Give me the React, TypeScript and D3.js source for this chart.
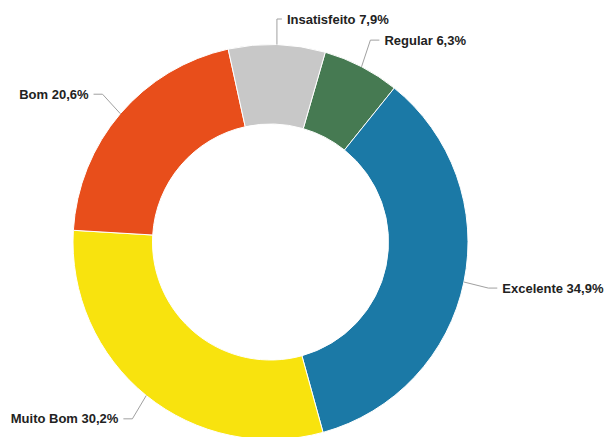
import React from 'react';
import * as d3 from 'd3';

// slices in drawing order, clockwise from the top
const categories = ['Regular', 'Excelente', 'Muito Bom', 'Bom', 'Insatisfeito'];
const values = [6.3, 34.9, 30.2, 20.6, 7.9];
const labels = ['Regular 6,3%', 'Excelente 34,9%', 'Muito Bom 30,2%', 'Bom 20,6%', 'Insatisfeito 7,9%'];
const colors = ['#467a52', '#1b79a6', '#f8e30e', '#e84e1b', '#c8c8c8'];

const WIDTH = 607;
const HEIGHT = 437;

const App = () => {
  const cx = 270.5;
  const cy = 242;
  const outer = 197.5;
  const inner = 118;
  const labelR = outer + 30;
  const startAngle = (16.1 * Math.PI) / 180;

  const pie = d3
    .pie<number>()
    .sort(null)
    .value(d => d)
    .startAngle(startAngle)
    .endAngle(startAngle + 2 * Math.PI);

  const arcs = pie(values);
  const arc = d3.arc<d3.PieArcDatum<number>>().innerRadius(inner).outerRadius(outer);

  return (
    <svg
      width={WIDTH}
      height={HEIGHT}
      style={{ position: 'absolute', left: 0, top: 0, display: 'block' }}
    >
      <rect width={WIDTH} height={HEIGHT} fill="#ffffff" />
      <g transform={`translate(${cx},${cy})`}>
        {arcs.map((a, i) => (
          <path key={categories[i]} d={arc(a) || ''} fill={colors[i]} stroke="#ffffff" strokeWidth={1} />
        ))}
        {arcs.map((a, i) => {
          const mid = (a.startAngle + a.endAngle) / 2;
          const sx = outer * Math.sin(mid);
          const sy = -outer * Math.cos(mid);
          const right = Math.sin(mid) >= 0;
          const dir = right ? 1 : -1;
          let ly = -labelR * Math.cos(mid);
          ly = Math.max(ly, 19 - cy);
          const lx = labelR * Math.sin(mid);
          const endX = lx + dir * 4;
          const bendX = right ? Math.max(endX - 9, sx) : Math.min(endX + 9, sx);
          const textX = lx + dir * 9;
          const line = d3.line()([
            [sx, sy],
            [bendX, ly],
            [endX, ly],
          ]);
          return (
            <g key={`l-${categories[i]}`}>
              <path d={line || ''} fill="none" stroke="#a0a0a0" strokeWidth={1} />
              <text
                x={textX}
                y={ly}
                dy="0.35em"
                textAnchor={right ? 'start' : 'end'}
                fontFamily="'Liberation Sans', Arial, sans-serif"
                fontWeight="bold"
                fontSize={13}
                fill="#222222"
                stroke="#ffffff"
                strokeWidth={2}
                paintOrder="stroke"
              >
                {labels[i]}
              </text>
            </g>
          );
        })}
      </g>
    </svg>
  );
};

export default App;
